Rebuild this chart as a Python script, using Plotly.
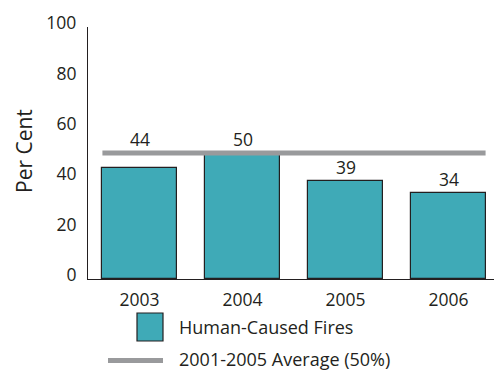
import plotly.graph_objects as go

# Human-caused fires as a share of all fires, by year
years = ["2003", "2004", "2005", "2006"]
human_caused_pct = [44, 50, 39, 34]
average_2001_2005 = 50
y_ticks = [0, 20, 40, 60, 80, 100]

TEAL = "#3FAAB7"
GREY = "#999A9C"
INK = "#231F20"
FONT = "Open Sans"

W, H = 494, 371
M_L, M_R, M_T, M_B = 88, 0, 27, 92
BAR_W = 0.72

x_pos = list(range(len(years)))

fig = go.Figure()

fig.add_trace(go.Bar(
    x=x_pos,
    y=human_caused_pct,
    width=BAR_W,
    marker=dict(color=TEAL, line=dict(color=INK, width=1.2)),
    showlegend=False,
    hoverinfo="skip",
))

# 2001-2005 average reference line spanning the outer bar edges
fig.add_trace(go.Scatter(
    x=[x_pos[0] - BAR_W / 2, x_pos[-1] + BAR_W / 2],
    y=[average_2001_2005, average_2001_2005],
    mode="lines",
    line=dict(color=GREY, width=5),
    showlegend=False,
    hoverinfo="skip",
))

# value labels; a label that would sit on the average line is lifted above it
annotations = []
for xp, v in zip(x_pos, human_caused_pct):
    gap = average_2001_2005 - v
    label_base = average_2001_2005 if 0 <= gap < 8 else v
    annotations.append(dict(
        x=xp, y=label_base, xref="x", yref="y",
        text=str(v), showarrow=False, yanchor="middle", yshift=14,
        font=dict(family=FONT, size=17.5, color=INK),
    ))

plot_w = W - M_L - M_R
plot_h = H - M_T - M_B


def px_to_paper(px, py):
    return (px - M_L) / plot_w, (H - M_B - py) / plot_h


# y-axis title
tx, ty = px_to_paper(24, 151)
annotations.append(dict(
    x=tx, y=ty, xref="paper", yref="paper", text="Per Cent",
    textangle=-90, showarrow=False, xanchor="center", yanchor="middle",
    font=dict(family=FONT, size=21, color=INK),
))

# legend drawn by hand: swatch + line sample with their captions
shapes = []
x0, y0 = px_to_paper(137, 313)
x1, y1 = px_to_paper(163, 341)
shapes.append(dict(type="rect", xref="paper", yref="paper",
                   x0=x0, x1=x1, y0=y1, y1=y0,
                   fillcolor=TEAL, line=dict(color=INK, width=1.2)))
lx0, ly = px_to_paper(108, 360.5)
lx1, _ = px_to_paper(163, 360.5)
shapes.append(dict(type="line", xref="paper", yref="paper",
                   x0=lx0, x1=lx1, y0=ly, y1=ly,
                   line=dict(color=GREY, width=5)))

for text, (cx, cy) in [("Human-Caused Fires", (177, 327)),
                       ("2001-2005 Average (50%)", (177, 359))]:
    ax, ay = px_to_paper(cx, cy)
    annotations.append(dict(
        x=ax, y=ay, xref="paper", yref="paper", text=text,
        showarrow=False, xanchor="left", yanchor="middle",
        font=dict(family=FONT, size=18, color=INK),
    ))

fig.update_layout(
    width=W, height=H,
    margin=dict(l=M_L, r=M_R, t=M_T, b=M_B, pad=0),
    plot_bgcolor="white", paper_bgcolor="white",
    font=dict(family=FONT, size=17.5, color=INK),
    bargap=0,
    annotations=annotations,
    shapes=shapes,
    xaxis=dict(
        range=[-0.5, -0.5 + plot_w / 103],
        tickvals=x_pos, ticktext=years,
        showline=True, linecolor=INK, linewidth=1.2,
        showgrid=False, zeroline=False, ticks="",
        ticklabelstandoff=5,
        tickfont=dict(family=FONT, size=17.5, color=INK),
    ),
    yaxis=dict(
        range=[0, 100], tickvals=y_ticks,
        showline=True, linecolor=INK, linewidth=1.2,
        showgrid=False, zeroline=False, ticks="",
        ticklabelstandoff=7, ticklabelshift=-4,
        tickfont=dict(family=FONT, size=17.5, color=INK),
    ),
)

fig.write_html("out.html")
